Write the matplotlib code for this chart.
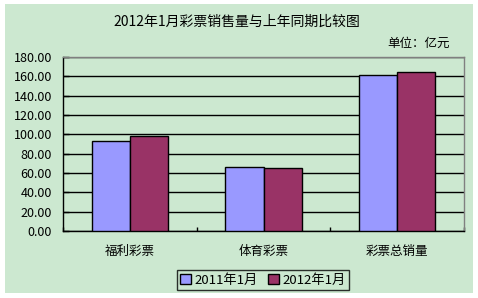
import matplotlib
matplotlib.use("Agg")
import matplotlib.pyplot as plt
from matplotlib.patches import Rectangle
import numpy as np

plt.rcParams['font.family'] = ['Noto Sans CJK SC', 'DejaVu Sans']

""" data """
categories = ["福利彩票", "体育彩票", "彩票总销量"]
series_names = ["2011年1月", "2012年1月"]
sales_2011 = [93.0, 66.0, 161.0]
sales_2012 = [98.0, 65.0, 164.5]
y_ticks = [0, 20, 40, 60, 80, 100, 120, 140, 160, 180]

colors = ["#9999FF", "#993366"]
bg = "#CCE8D0"

W, H = 478, 298
fig = plt.figure(figsize=(W / 100, H / 100), dpi=100)
fig.patch.set_facecolor("white")
## green chart area
fig.patches.append(Rectangle((5 / W, 5 / H), 468 / W, 289 / H, transform=fig.transFigure,
                             facecolor=bg, edgecolor="none", zorder=-10))

ax = fig.add_axes([63 / W, (H - 231) / H, 401 / W, 174 / H])
ax.set_facecolor(bg)

x = np.arange(len(categories))
bw = 1 / 3.5
ax.bar(x - bw / 2, sales_2011, bw, color=colors[0], edgecolor="black", linewidth=1, label=series_names[0], zorder=3)
ax.bar(x + bw / 2, sales_2012, bw, color=colors[1], edgecolor="black", linewidth=1, label=series_names[1], zorder=3)

ax.set_xlim(-0.5, len(categories) - 0.5)
ax.set_ylim(0, 180)
ax.set_yticks(y_ticks)
ax.set_yticklabels(["%.2f" % v for v in y_ticks], fontsize=9)
ax.yaxis.grid(True, color="black", linewidth=1, zorder=0)
ax.set_axisbelow(True)

ax.set_xticks(x)
ax.set_xticklabels(categories, fontsize=9)
ax.set_xticks(np.arange(len(categories) + 1) - 0.5, minor=True)
ax.tick_params(axis="x", which="major", length=0, pad=10)
ax.tick_params(axis="x", which="minor", direction="in", length=3, width=1)
ax.tick_params(axis="y", direction="in", length=4, width=1, pad=8)

for s in ["left", "bottom"]:
    ax.spines[s].set_color("black")
    ax.spines[s].set_linewidth(1)
for s in ["top", "right"]:
    ax.spines[s].set_color("#808080")
    ax.spines[s].set_linewidth(1)

fig.text(237 / W, 1 - 22 / H, "2012年1月彩票销售量与上年同期比较图", ha="center", va="center", fontsize=10)
fig.text(450 / W, 1 - 43 / H, "单位：亿元", ha="right", va="center", fontsize=9)

leg = fig.legend(loc="center", bbox_to_anchor=(263 / W, 1 - 280 / H), ncol=2, fontsize=9.5,
                 frameon=True, fancybox=False, edgecolor="black", facecolor=bg,
                 handlelength=0.8, handleheight=0.8, handletextpad=0.3, columnspacing=0.8,
                 borderpad=0.25)
leg.get_frame().set_linewidth(1)

fig.savefig("out.png", dpi=100, facecolor=fig.get_facecolor())
